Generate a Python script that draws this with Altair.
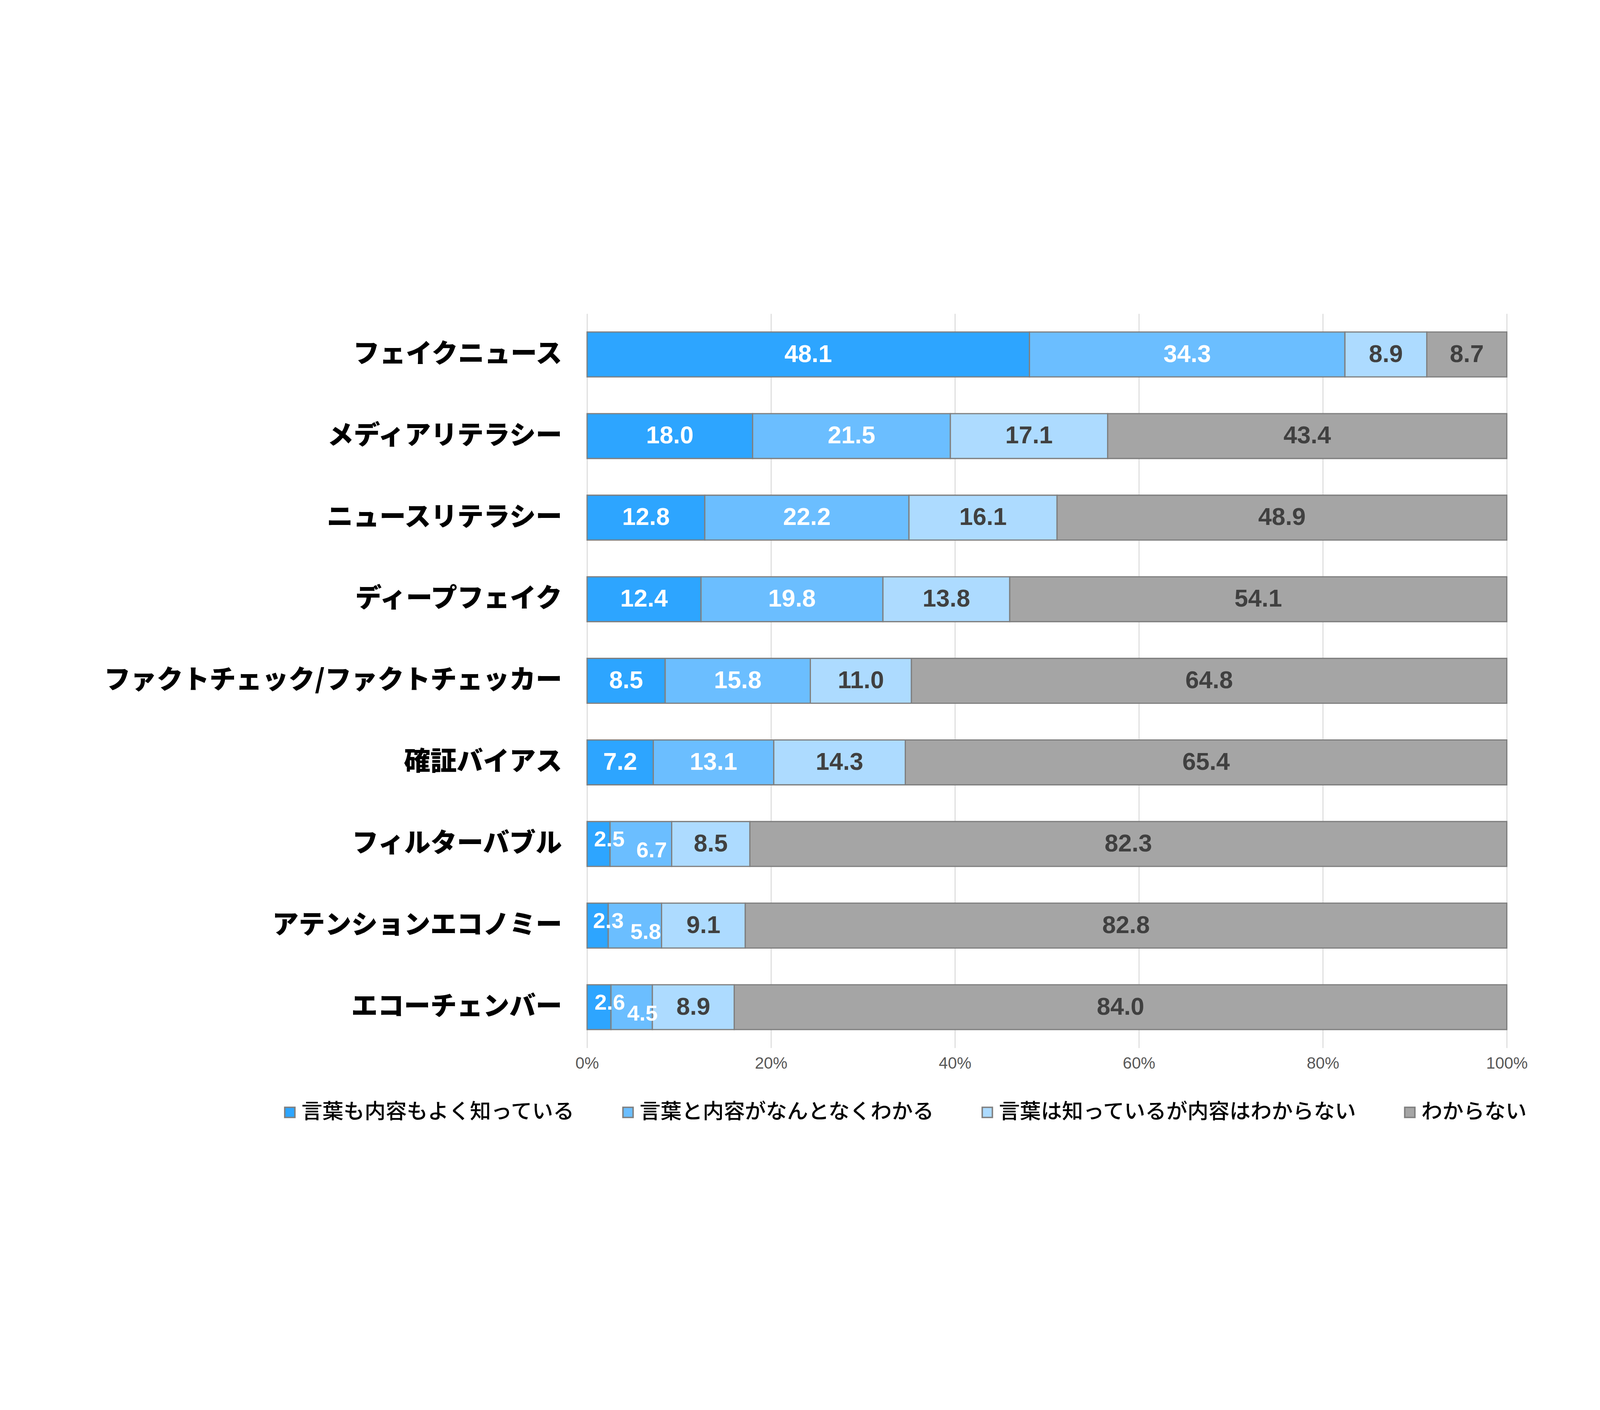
import altair as alt
import pandas as pd

items = [
    "フェイクニュース",
    "メディアリテラシー",
    "ニュースリテラシー",
    "ディープフェイク",
    "ファクトチェック/ファクトチェッカー",
    "確証バイアス",
    "フィルターバブル",
    "アテンションエコノミー",
    "エコーチェンバー",
]
series = [
    "言葉も内容もよく知っている",
    "言葉と内容がなんとなくわかる",
    "言葉は知っているが内容はわからない",
    "わからない",
]
know_well = [48.1, 18.0, 12.8, 12.4, 8.5, 7.2, 2.5, 2.3, 2.6]
know_vague = [34.3, 21.5, 22.2, 19.8, 15.8, 13.1, 6.7, 5.8, 4.5]
word_only = [8.9, 17.1, 16.1, 13.8, 11.0, 14.3, 8.5, 9.1, 8.9]
unknown = [8.7, 43.4, 48.9, 54.1, 64.8, 65.4, 82.3, 82.8, 84.0]
x_ticks = [0, 0.2, 0.4, 0.6, 0.8, 1.0]

colors = ["#2DA5FF", "#6BBEFF", "#ADDBFF", "#A5A5A5"]
text_colors = ["#FFFFFF", "#FFFFFF", "#404040", "#404040"]

rows = []
cols = [know_well, know_vague, word_only, unknown]
for i, it in enumerate(items):
    small = know_well[i] < 5
    for s, name in enumerate(series):
        v = cols[s][i]
        if small and s == 0:
            kind = "small0"
        elif small and s == 1:
            kind = "small1"
        else:
            kind = "normal"
        rows.append({"item": it, "series": name, "order": s, "value": v,
                     "kind": kind, "tcolor": text_colors[s]})
df = pd.DataFrame(rows)

base = alt.Chart(df).transform_stack(
    stack="value", groupby=["item"], sort=[alt.SortField("order")],
    offset="normalize", as_=["x0", "x1"]
).transform_calculate(mid="(datum.x0 + datum.x1) / 2")

y_enc = alt.Y("item:N", sort=items, title=None,
              scale=alt.Scale(paddingInner=0.45, paddingOuter=0.225),
              axis=alt.Axis(labelFont="Noto Sans CJK JP", labelFontWeight=900,
                            labelFontSize=110, labelColor="#000000", labelLimit=3000,
                            labelPadding=105, ticks=False, domain=False, grid=False))

bars = base.mark_bar(stroke="#7F7F7F", strokeWidth=5).encode(
    x=alt.X("x0:Q", title=None, scale=alt.Scale(domain=[0, 1], nice=False),
            axis=alt.Axis(values=x_ticks, format=".0%", labelFont="Liberation Sans",
                          labelFontSize=68, labelColor="#595959", labelPadding=32,
                          labelFlush=False, ticks=False, domain=False, grid=True,
                          gridColor="#D9D9D9", gridWidth=4)),
    x2="x1:Q",
    y=y_enc,
    color=alt.Color("series:N", sort=series,
                    scale=alt.Scale(domain=series, range=colors),
                    legend=alt.Legend(orient="none", legendX=-1285, legendY=3291,
                                      direction="horizontal", title=None,
                                      labelFont="Noto Sans CJK JP", labelFontSize=88,
                                      labelFontWeight=500, labelColor="#000000",
                                      labelLimit=3000, symbolType="square",
                                      symbolSize=1800, symbolStrokeColor="#7F7F7F",
                                      symbolStrokeWidth=6, labelOffset=4,
                                      columnPadding=175, symbolOpacity=1)),
    order=alt.Order("order:Q"),
)

def labels(kind, size, dx=0, dy=0):
    return base.transform_filter(alt.datum.kind == kind).mark_text(
        font="Liberation Sans", fontWeight="bold", fontSize=size,
        dx=dx, dy=dy, align="center", baseline="middle"
    ).encode(
        x="mid:Q",
        y=alt.Y("item:N", sort=items),
        text=alt.Text("value:Q", format=".1f"),
        color=alt.Color("tcolor:N", scale=None),
    )

chart = alt.layer(
    bars,
    labels("normal", 102),
    labels("small0", 92, dx=45, dy=-18),
    labels("small1", 92, dx=45, dy=28),
).properties(
    width=3840, height=3066,
    autosize=alt.AutoSizeParams(type="none"),
    padding={"left": 2438, "top": 163, "right": 376, "bottom": 365},
    background="#FFFFFF",
).configure_view(stroke=None)

chart.save("out.html", embed_options={"renderer": "svg", "actions": False})
